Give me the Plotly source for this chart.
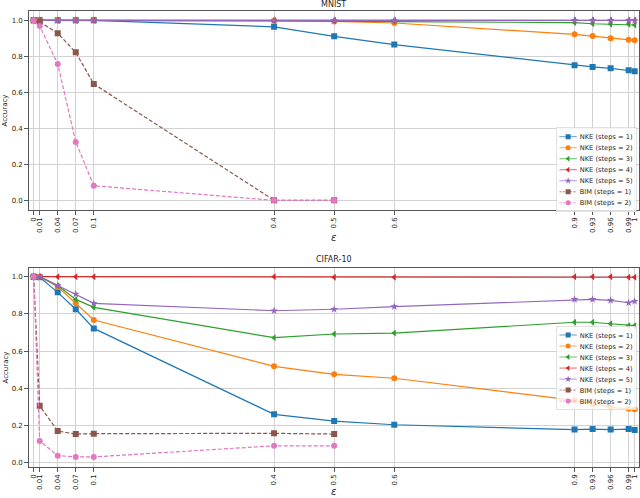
import plotly.graph_objects as go

# ---------------- data ----------------
eps = [0, 0.01, 0.04, 0.07, 0.1, 0.4, 0.5, 0.6, 0.9, 0.93, 0.96, 0.99, 1]
eps_bim = [0, 0.01, 0.04, 0.07, 0.1, 0.4, 0.5]
tick_vals = [0, 0.01, 0.04, 0.07, 0.1, 0.4, 0.5, 0.6, 0.9, 0.93, 0.96, 0.99, 1]
tick_text = ["0", "0.01", "0.04", "0.07", "0.1", "0.4", "0.5", "0.6", "0.9", "0.93", "0.96", "0.99", "1"]

series_names = ["NKE (steps = 1)", "NKE (steps = 2)", "NKE (steps = 3)", "NKE (steps = 4)",
                "NKE (steps = 5)", "BIM (steps = 1)", "BIM (steps = 2)"]

mnist_nke1 = [1.0, 1.0, 1.0, 1.0, 1.0, 0.964, 0.911, 0.865, 0.750, 0.741, 0.733, 0.722, 0.717]
mnist_nke2 = [1.0, 1.0, 1.0, 1.0, 1.0, 0.998, 0.994, 0.985, 0.922, 0.913, 0.900, 0.892, 0.889]
mnist_nke3 = [1.0, 1.0, 1.0, 1.0, 1.0, 0.998, 0.996, 0.993, 0.987, 0.981, 0.978, 0.978, 0.974]
mnist_nke4 = [1.0, 1.0, 1.0, 1.0, 1.0, 1.0, 1.0, 1.0, 1.0, 1.0, 1.0, 1.0, 1.0]
mnist_nke5 = [1.0, 1.0, 1.0, 1.0, 1.0, 1.0, 1.0, 1.0, 1.0, 1.0, 1.0, 0.999, 0.999]
mnist_bim1 = [1.0, 0.992, 0.928, 0.822, 0.646, 0.0, 0.0]
mnist_bim2 = [1.0, 0.968, 0.757, 0.324, 0.081, 0.0, 0.0]

cifar_nke1 = [1.0, 0.997, 0.916, 0.825, 0.722, 0.260, 0.224, 0.204, 0.178, 0.181, 0.178, 0.181, 0.176]
cifar_nke2 = [1.0, 1.0, 0.946, 0.857, 0.767, 0.518, 0.475, 0.454, 0.335, 0.316, 0.298, 0.290, 0.288]
cifar_nke3 = [1.0, 1.0, 0.952, 0.878, 0.835, 0.672, 0.692, 0.697, 0.755, 0.755, 0.747, 0.737, 0.737]
cifar_nke4 = [1.0, 1.0, 1.0, 1.0, 1.0, 1.0, 0.997, 0.997, 1.0, 1.0, 1.0, 0.997, 0.997]
cifar_nke5 = [1.0, 1.0, 0.953, 0.907, 0.857, 0.817, 0.825, 0.839, 0.878, 0.878, 0.873, 0.860, 0.868]
cifar_bim1 = [1.0, 0.306, 0.170, 0.154, 0.156, 0.158, 0.154]
cifar_bim2 = [1.0, 0.117, 0.038, 0.031, 0.031, 0.091, 0.091]

# ---------------- style ----------------
colors = ["#1f77b4", "#ff7f0e", "#2ca02c", "#d62728", "#9467bd", "#8c564b", "#e377c2"]
symbols = ["square", "circle", "triangle-left", "triangle-left", "star", "square", "circle"]
msizes = [6, 6, 6, 6, 6, 6, 6]
dashes = ["solid"] * 5 + ["4px,2px", "4px,2px"]

fig = go.Figure()

panels = [
    ("x", "y", "legend",
     [mnist_nke1, mnist_nke2, mnist_nke3, mnist_nke4, mnist_nke5, mnist_bim1, mnist_bim2]),
    ("x2", "y2", "legend2",
     [cifar_nke1, cifar_nke2, cifar_nke3, cifar_nke4, cifar_nke5, cifar_bim1, cifar_bim2]),
]

for xa, ya, leg, ys in panels:
    for i, yv in enumerate(ys):
        xv = eps if i < 5 else eps_bim
        fig.add_trace(go.Scatter(
            x=xv, y=yv, name=series_names[i], mode="lines+markers",
            xaxis=xa, yaxis=ya, legend=leg,
            line=dict(color=colors[i], width=1.2, dash=dashes[i]),
            marker=dict(symbol=symbols[i], size=msizes[i], color=colors[i], line=dict(width=0)),
        ))

W, H = 640, 498
FONT = "DejaVu Sans"
TXT = "#262626"

def px_x(p):
    return p / W

def px_y(p):
    return 1 - p / H

axis_common = dict(
    showline=True, mirror=True, linecolor="#555555", linewidth=1,
    showgrid=True, gridcolor="#d2d2d2", gridwidth=1, zeroline=False,
    ticks="outside", ticklen=3.5, tickwidth=1, tickcolor="#555555",
    tickfont=dict(family=FONT, size=7, color=TXT),
)

xdom = [px_x(28.7), px_x(639.3)]
xcommon = dict(axis_common, domain=xdom, range=[-0.0083, 1.0077],
               tickmode="array", tickvals=tick_vals, ticktext=tick_text, tickangle=-90)

fig.update_layout(
    width=W, height=H,
    margin=dict(l=0, r=0, t=0, b=0, autoexpand=False),
    paper_bgcolor="white", plot_bgcolor="white",
    font=dict(family=FONT, size=7, color=TXT),
    xaxis=dict(xcommon, anchor="y"),
    yaxis=dict(axis_common, domain=[px_y(210), px_y(11)], range=[-0.0539, 1.0517],
               anchor="x", tickmode="linear", tick0=0, dtick=0.2, tickformat=".1f"),
    xaxis2=dict(xcommon, anchor="y2"),
    yaxis2=dict(axis_common, domain=[px_y(467), px_y(268)], range=[-0.0231, 1.0468],
                anchor="x2", tickmode="linear", tick0=0, dtick=0.2, tickformat=".1f"),
    legend=dict(x=px_x(637), xanchor="right", y=px_y(127.7), yanchor="top",
                bgcolor="rgba(255,255,255,0.8)", bordercolor="#cccccc", borderwidth=1,
                font=dict(family=FONT, size=11.5, color=TXT), tracegroupgap=0),
    legend2=dict(x=px_x(637), xanchor="right", y=px_y(326), yanchor="top",
                 bgcolor="rgba(255,255,255,0.8)", bordercolor="#cccccc", borderwidth=1,
                 font=dict(family=FONT, size=11.5, color=TXT), tracegroupgap=0),
)

annots = [
    dict(text="MNIST", x=px_x(333.5), y=px_y(4.5), size=8, angle=0),
    dict(text="CIFAR-10", x=px_x(333.5), y=px_y(259.5), size=8, angle=0),
    dict(text="Accuracy", x=px_x(5), y=px_y(110.5), size=7, angle=-90),
    dict(text="Accuracy", x=px_x(5), y=px_y(367.5), size=7, angle=-90),
    dict(text="<i>ε</i>", x=px_x(333.5), y=px_y(237.5), size=10, angle=0),
    dict(text="<i>ε</i>", x=px_x(333.5), y=px_y(491), size=10, angle=0),
]
for a in annots:
    fig.add_annotation(text=a["text"], x=a["x"], y=a["y"], xref="paper", yref="paper",
                       xanchor="center", yanchor="middle", showarrow=False,
                       textangle=a["angle"], font=dict(family=FONT, size=a["size"], color=TXT))

# Remove page margins, and compact the legends (matplotlib-style tight spacing):
# scale each legend about its top-right corner and enlarge its marker glyphs.
post = """
document.documentElement.style.margin = '0';
document.body.style.margin = '0';
document.body.style.padding = '0';
document.body.style.overflow = 'hidden';
var S = 0.58;
var gd = document.getElementById('{plot_id}');
function fixLegends(){
  var gs = gd.querySelectorAll('g.legend, g.legend2');
  gs.forEach(function(g){
    g.querySelectorAll('path.scatterpts').forEach(function(p){
      var pt = p.getAttribute('transform') || '';
      if (pt.indexOf('scale') < 0) p.setAttribute('transform', pt + ' scale(1.45)');
    });
    var t = g.getAttribute('transform') || '';
    if (g.__mine === t) return;
    var m = /translate\\(\\s*([-\\d.eE]+)[ ,]+([-\\d.eE]+)\\s*\\)/.exec(t);
    if (!m) return;
    var x = parseFloat(m[1]), y = parseFloat(m[2]);
    var bg = g.querySelector('rect.bg');
    var w = bg ? parseFloat(bg.getAttribute('width')) : 0;
    var nt = 'translate(' + (x + w * (1 - S)) + ',' + y + ') scale(' + S + ')';
    g.setAttribute('transform', nt);
    g.__mine = nt;
  });
}
fixLegends();
gd.on('plotly_afterplot', fixLegends);
"""

fig.write_html("out.html", post_script=post, config={"displayModeBar": False})
